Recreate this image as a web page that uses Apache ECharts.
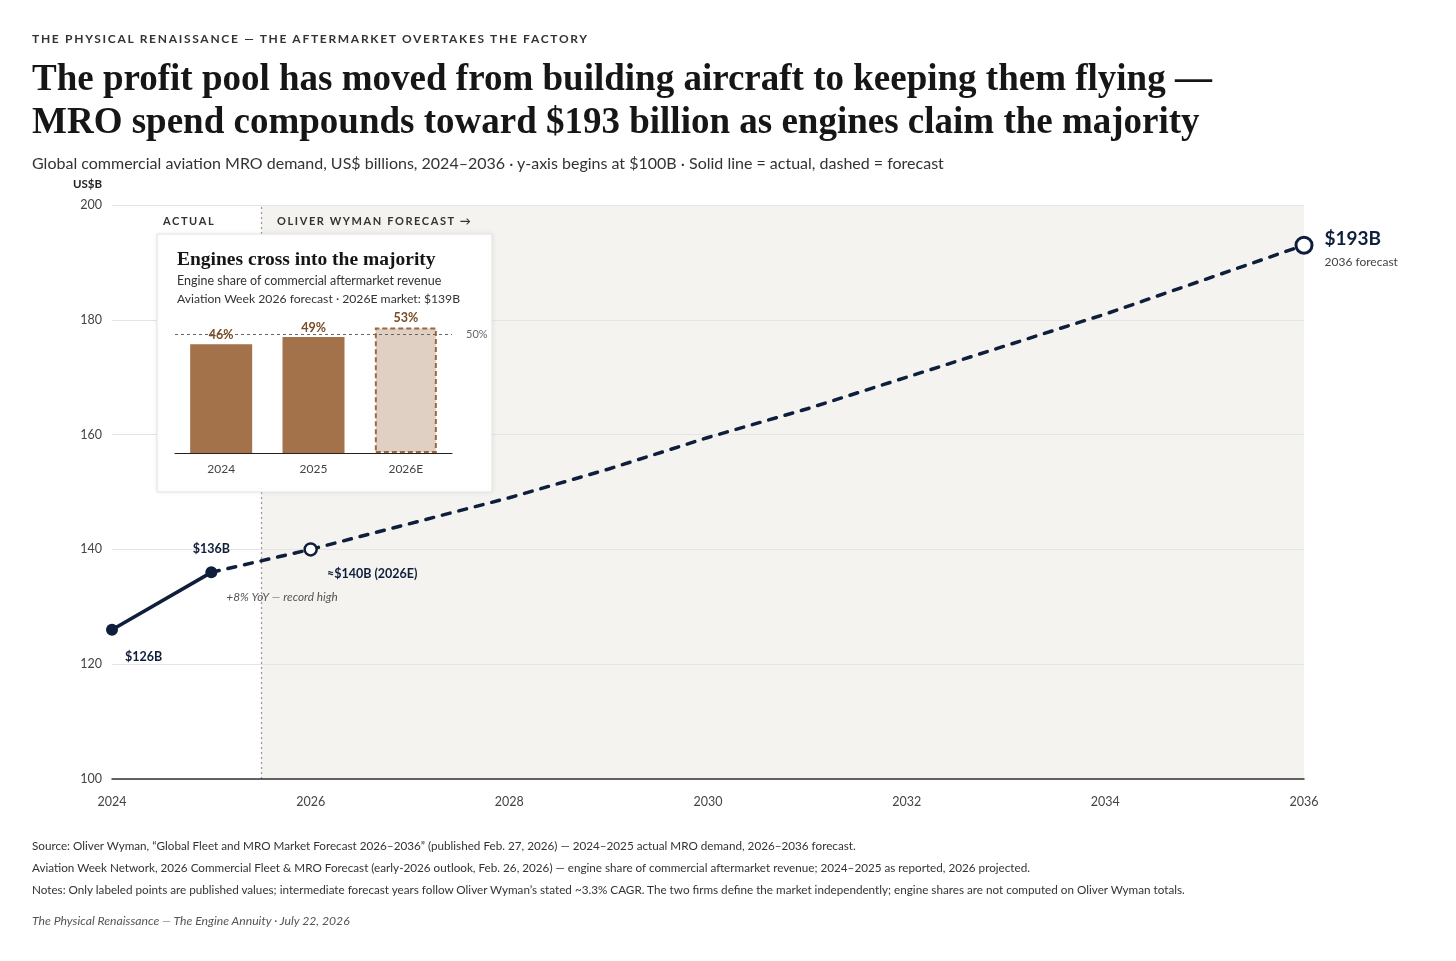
<!DOCTYPE html>
<html>
<head>
<meta charset="utf-8">
<title>MRO demand</title>
<script src="https://cdn.jsdelivr.net/npm/echarts@6/dist/echarts.min.js"></script>
<style>
body{margin:0;background:#fff;}
#wrap{position:relative;width:1456px;height:961px;overflow:hidden;font-family:Lato,"Noto Sans",sans-serif;color:#222;}
#chart{position:absolute;left:0;top:0;width:1456px;height:961px;}
.txt{position:absolute;white-space:nowrap;pointer-events:none;}
.eyebrow{left:32px;top:31px;font-size:12px;font-weight:700;letter-spacing:1.7px;color:#333;}
.title{left:32px;top:56px;font-family:"Liberation Serif",serif;font-weight:700;font-size:37px;line-height:43px;color:#161616;}
.sub{left:32px;top:153px;font-size:16px;color:#333;}
.band{top:214px;font-size:11px;font-weight:700;letter-spacing:1.6px;color:#333;}
.inTitle{left:177px;top:248px;font-family:"Liberation Serif",serif;font-weight:700;font-size:19.5px;color:#161616;}
.inSub{left:177px;font-size:12.5px;color:#333;}
.foot{left:32px;font-size:11.7px;color:#333;}
.sig{left:32px;top:913px;font-size:12.2px;font-style:italic;color:#555;}
</style>
</head>
<body>
<div id="wrap">
  <div id="chart"></div>
  <div class="txt eyebrow">THE PHYSICAL RENAISSANCE — THE AFTERMARKET OVERTAKES THE FACTORY</div>
  <div class="txt title">The profit pool has moved from building aircraft to keeping them flying —<br>MRO spend compounds toward $193 billion as engines claim the majority</div>
  <div class="txt sub">Global commercial aviation MRO demand, US$ billions, 2024–2036 · y-axis begins at $100B · Solid line = actual, dashed = forecast</div>
  <div class="txt band" style="left:163px">ACTUAL</div>
  <div class="txt band" style="left:277px">OLIVER WYMAN FORECAST →</div>
  <div class="txt inTitle">Engines cross into the majority</div>
  <div class="txt inSub" style="top:273px">Engine share of commercial aftermarket revenue</div>
  <div class="txt inSub" style="top:291px;font-size:12.2px">Aviation Week 2026 forecast · 2026E market: $139B</div>
  <div class="txt foot" style="top:838px">Source: Oliver Wyman, “Global Fleet and MRO Market Forecast 2026–2036” (published Feb. 27, 2026) — 2024–2025 actual MRO demand, 2026–2036 forecast.</div>
  <div class="txt foot" style="top:860px">Aviation Week Network, 2026 Commercial Fleet &amp; MRO Forecast (early-2026 outlook, Feb. 26, 2026) — engine share of commercial aftermarket revenue; 2024–2025 as reported, 2026 projected.</div>
  <div class="txt foot" style="top:882px">Notes: Only labeled points are published values; intermediate forecast years follow Oliver Wyman’s stated ~3.3% CAGR. The two firms define the market independently; engine shares are not computed on Oliver Wyman totals.</div>
  <div class="txt sig">The Physical Renaissance — The Engine Annuity · July 22, 2026</div>
</div>
<script>
// 数据
var actualYears = [2024, 2025];
var actualVals = [126, 136];
var forecastYears = [2025, 2026, 2027, 2028, 2029, 2030, 2031, 2032, 2033, 2034, 2035, 2036];
var forecastVals = [136, 140, 144.5, 149, 154, 159.5, 164.5, 170, 175.5, 181, 187, 193];
var splitYear = 2025.5;
var shareCats = ['2024', '2025', '2026E'];
var shareVals = [46, 49, 53];
var majorityLine = 50;

var navy = '#0e1e3b';
var brown = '#a3714a';
var font = 'Lato';

var chart = echarts.init(document.getElementById('chart'));

var actualData = [];
for (var i = 0; i < actualYears.length; i++) {
    actualData.push({value: [actualYears[i], actualVals[i]]});
}
actualData[0].label = {show: true, position: 'right', offset: [2, 27], formatter: '$126B'};
actualData[1].label = {show: true, position: 'top', offset: [0, -6], formatter: '$136B'};

var forecastData = [];
for (var j = 0; j < forecastYears.length; j++) {
    forecastData.push({value: [forecastYears[j], forecastVals[j]], symbol: 'none'});
}
// 2026E 空心点
forecastData[1].symbol = 'circle';
forecastData[1].symbolSize = 12;
forecastData[1].label = {show: true, position: 'right', offset: [4, 25], formatter: '≈$140B (2026E)'};
// 2036 终点
var last = forecastData.length - 1;
forecastData[last].symbol = 'circle';
forecastData[last].symbolSize = 16;
forecastData[last].itemStyle = {color: '#fff', borderColor: navy, borderWidth: 3};
forecastData[last].label = {
    show: true, position: 'right', offset: [6, 5],
    formatter: '{a|$193B}\n{b|2036 forecast}',
    rich: {
        a: {fontFamily: font, fontSize: 19, fontWeight: 'bold', color: navy, lineHeight: 24},
        b: {fontFamily: font, fontSize: 12, fontWeight: 'normal', color: '#444', lineHeight: 22}
    }
};

var shareData = [];
for (var k = 0; k < shareVals.length; k++) {
    shareData.push({value: shareVals[k]});
}
shareData[2].itemStyle = {color: '#e0d0c4', borderColor: '#9a6942', borderWidth: 2, borderType: [5, 3]};

option = {
    animation: false,
    textStyle: {fontFamily: font},
    grid: [
        {left: 112, right: 152, top: 205, bottom: 182},
        {left: 175, top: 311, width: 277, height: 142}
    ],
    xAxis: [
        {
            type: 'value', min: 2024, max: 2036, interval: 2, z: 2,
            axisLine: {show: true, lineStyle: {color: '#333', width: 1.5}},
            axisTick: {show: false},
            splitLine: {show: false},
            axisLabel: {
                margin: 16, fontSize: 12.5, color: '#444', fontFamily: font,
                formatter: function (v) { return String(v); }
            }
        },
        {
            type: 'category', gridIndex: 1, data: shareCats, z: 5,
            axisLine: {lineStyle: {color: '#222', width: 1.2}},
            axisTick: {show: false},
            axisLabel: {margin: 10, fontSize: 12, color: '#444', fontFamily: font}
        }
    ],
    yAxis: [
        {
            type: 'value', min: 100, max: 200, interval: 20, z: 2,
            name: 'US$B', nameLocation: 'end', nameGap: 15,
            nameTextStyle: {align: 'right', padding: [0, 10, 0, 0], fontSize: 11.5, fontWeight: 'bold', color: '#222', fontFamily: font},
            axisLine: {show: false},
            axisTick: {show: false},
            axisLabel: {margin: 10, fontSize: 12.5, color: '#444', fontFamily: font},
            splitLine: {lineStyle: {color: '#e4e4e4', width: 1}}
        },
        {
            type: 'value', gridIndex: 1, min: 0, max: 60, show: false,
            splitLine: {show: false}
        }
    ],
    graphic: [
        {
            type: 'rect', z: 3, silent: true,
            shape: {x: 157, y: 234, width: 335, height: 258},
            style: {fill: '#fff', stroke: '#e3e3e3', lineWidth: 1, shadowBlur: 6, shadowColor: 'rgba(0,0,0,0.07)'}
        }
    ],
    series: [
        {
            // 预测区背景与分隔线
            type: 'line', data: [], z: 1, silent: true,
            markArea: {
                silent: true, z: 1,
                itemStyle: {color: '#f5f3ef'},
                data: [[{xAxis: splitYear}, {xAxis: 2036}]]
            },
            markLine: {
                silent: true, z: 1, symbol: ['none', 'none'],
                label: {show: false},
                lineStyle: {color: '#9a9a9a', type: [2, 3], width: 1.3},
                data: [{xAxis: splitYear}]
            }
        },
        {
            name: 'actual', type: 'line', z: 6,
            data: actualData,
            symbol: 'circle', symbolSize: 12,
            itemStyle: {color: navy},
            lineStyle: {color: navy, width: 3.5},
            label: {fontFamily: font, fontSize: 12.5, fontWeight: 'bold', color: navy},
            markPoint: {
                silent: true, symbol: 'circle', symbolSize: 0,
                data: [{
                    coord: [2025, 136],
                    label: {
                        show: true, position: 'right', offset: [10, 25],
                        formatter: '+8% YoY — record high',
                        fontFamily: font, fontSize: 11.8, fontStyle: 'italic', color: '#555'
                    }
                }]
            }
        },
        {
            name: 'forecast', type: 'line', z: 5,
            data: forecastData,
            showAllSymbol: true,
            itemStyle: {color: '#fff', borderColor: navy, borderWidth: 2.5},
            lineStyle: {color: navy, width: 3.5, type: [8, 9], cap: 'round'},
            label: {fontFamily: font, fontSize: 12.5, fontWeight: 'bold', color: navy}
        },
        {
            name: 'engine share', type: 'bar', z: 4,
            xAxisIndex: 1, yAxisIndex: 1,
            barWidth: 62,
            data: shareData,
            itemStyle: {color: brown},
            label: {
                show: true, position: 'top', distance: 3,
                formatter: '{c}%', fontFamily: font, fontSize: 12.5, fontWeight: 'bold', color: '#7a4a22'
            },
            markLine: {
                silent: true, symbol: ['none', 'none'],
                lineStyle: {color: '#666', type: [3, 3], width: 1},
                label: {show: true, position: 'end', distance: 14, formatter: '50%', fontFamily: font, fontSize: 11, color: '#666'},
                data: [{yAxis: majorityLine}]
            }
        }
    ]
};

chart.setOption(option);
</script>
</body>
</html>
